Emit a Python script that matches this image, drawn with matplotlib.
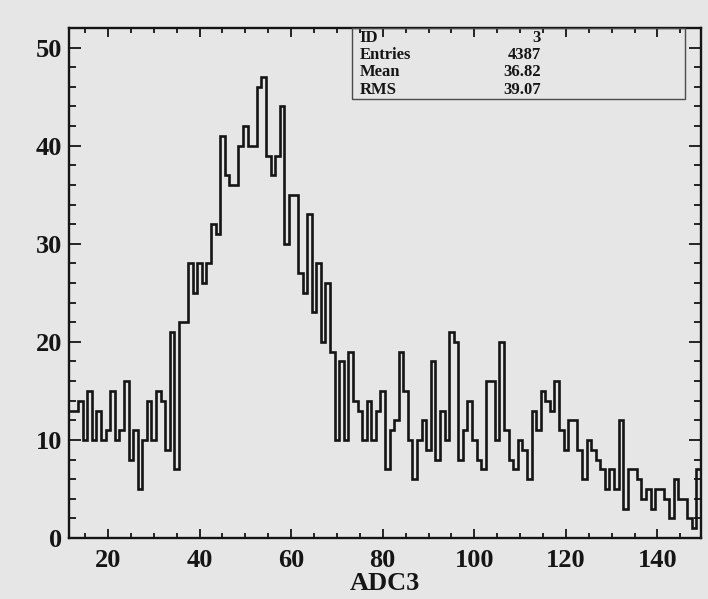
import numpy as np
import matplotlib
matplotlib.use("Agg")
import matplotlib.pyplot as plt
from matplotlib.patches import Rectangle
from matplotlib.ticker import MultipleLocator

# ---- data ----
adc_channels = np.arange(12, 150)  # bin centres (ADC3 channel)
counts = [
    13, 13, 14, 10, 15, 10, 13, 10, 11, 15, 10, 11, 16, 8, 11, 5, 10, 14, 10, 15, 14, 9, 21, 7, 22,
    22,
    28, 25, 28, 26, 28, 32, 31, 41, 37, 36, 36, 40, 42, 40, 40, 46, 47, 39, 37, 39, 44, 30, 35,
    35,
    27, 25, 33, 23, 28, 20, 26, 19, 10, 18, 10, 19, 14, 13, 10, 14, 10, 13, 15, 7, 11, 12, 19,
    15, 10, 6, 10, 12, 9, 18, 8, 13, 10, 21, 20, 8, 11, 14, 10, 8, 7, 16, 16, 10, 20, 11,
    8, 7, 10, 9, 6, 13, 11, 15, 14, 13, 16, 11, 9, 12, 12, 9, 6, 10, 9, 8, 7, 5, 7, 5, 12,
    3, 7, 7, 6, 4, 5, 3, 5, 5, 4, 2, 6, 4, 4, 2, 1, 7,
]
stat_labels = ["ID", "Entries", "Mean", "RMS"]
stat_values = ["3", "4387", "36.82", "39.07"]
x_title = "ADC3"

# ---- style ----
bg = "#e6e6e6"
ink = "#151515"
font = "Liberation Serif"

fig = plt.figure(figsize=(7.08, 5.99), dpi=100, facecolor=bg)
ax = fig.add_axes([69 / 708, 61 / 599, 632 / 708, 510 / 599], facecolor=bg)

edges = np.append(adc_channels - 0.5, adc_channels[-1] + 0.5)
ax.stairs(counts, edges, baseline=None, color=ink, linewidth=1.9)

ax.set_xlim(edges[0], edges[-1])
ax.set_ylim(0, 52)

ax.xaxis.set_major_locator(MultipleLocator(20))
ax.xaxis.set_minor_locator(MultipleLocator(5))
ax.yaxis.set_major_locator(MultipleLocator(10))
ax.yaxis.set_minor_locator(MultipleLocator(2))

ax.tick_params(axis="both", which="both", direction="in", colors=ink, width=1.3)
ax.tick_params(axis="x", which="major", length=6.5, top=True, pad=8)
ax.tick_params(axis="x", which="minor", length=3.5, top=True)
ax.tick_params(axis="y", which="major", length=8.5, right=True, pad=5)
ax.tick_params(axis="y", which="minor", length=5, right=True)

for lab in ax.get_xticklabels() + ax.get_yticklabels():
    lab.set_fontfamily(font)
    lab.set_fontweight("bold")
    lab.set_fontsize(19)
    lab.set_color(ink)

for s in ax.spines.values():
    s.set_color(ink)
    s.set_linewidth(1.7)

ax.set_xlabel(x_title, fontfamily=font, fontweight="bold", fontsize=19,
              color=ink, labelpad=0)

# ---- statistics box ----
box = Rectangle((0.448, 0.861), 0.527, 0.139, transform=ax.transAxes,
                fill=False, edgecolor="#4a4a4a", linewidth=1.0, zorder=5)
ax.add_patch(box)
row_y = [0.980, 0.947, 0.913, 0.878]
for lab, val, yy in zip(stat_labels, stat_values, row_y):
    ax.text(0.460, yy, lab, transform=ax.transAxes, ha="left", va="center",
            fontfamily=font, fontweight="bold", fontsize=12, color=ink)
    ax.text(0.747, yy, val, transform=ax.transAxes, ha="right", va="center",
            fontfamily=font, fontweight="bold", fontsize=12, color=ink)

fig.savefig("out.png", dpi=100, facecolor=bg)
